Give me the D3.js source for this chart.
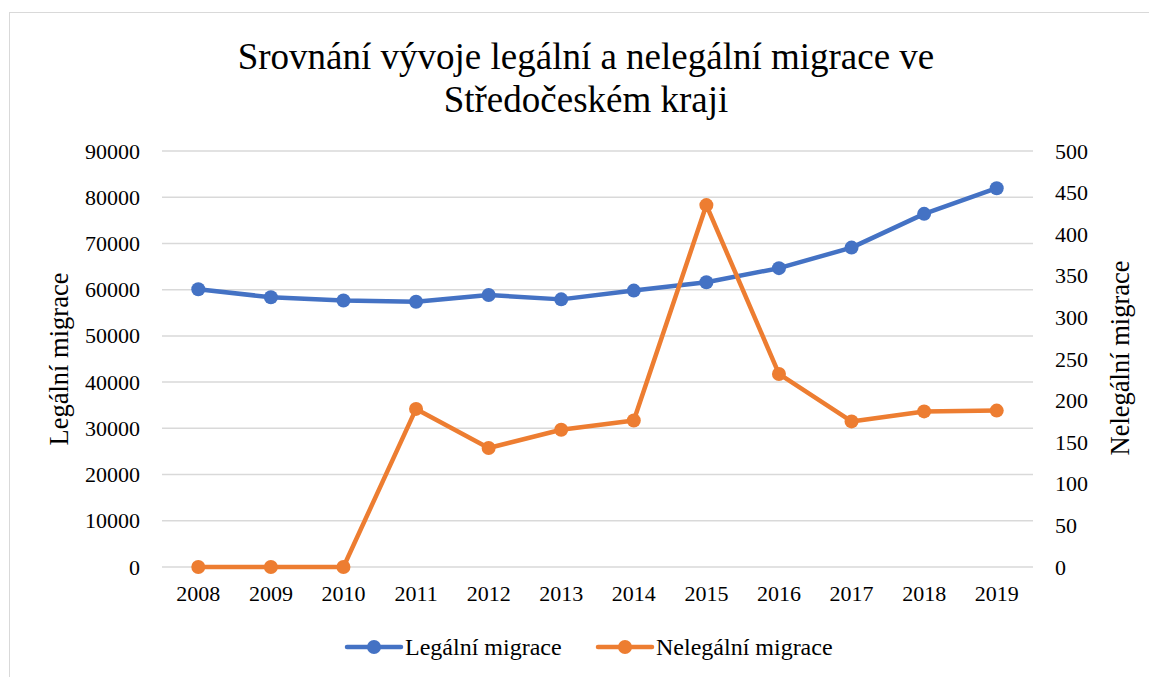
<!DOCTYPE html>
<html>
<head>
<meta charset="utf-8">
<script src="https://cdn.jsdelivr.net/npm/d3@7"></script>
<style>
  body { margin: 0; background: #fff; }
  text { font-family: "Liberation Serif", "Times New Roman", serif; fill: #000; }
</style>
</head>
<body>
<svg width="1149" height="677"></svg>
<script>
// data
var years = ["2008", "2009", "2010", "2011", "2012", "2013", "2014", "2015", "2016", "2017", "2018", "2019"];
var legal = [60100, 58350, 57650, 57400, 58850, 57900, 59800, 61600, 64650, 69100, 76400, 81950];
var illegal = [0, 0, 0, 190, 143, 165, 176, 435, 232, 175, 187, 188];
var leftTicks = [0, 10000, 20000, 30000, 40000, 50000, 60000, 70000, 80000, 90000];
var rightTicks = [0, 50, 100, 150, 200, 250, 300, 350, 400, 450, 500];

var svg = d3.select("svg");

// outer frame
svg.append("rect")
  .attr("x", 9.5).attr("y", 12.5)
  .attr("width", 1160).attr("height", 700)
  .attr("fill", "none")
  .attr("stroke", "#d9d9d9");

var x0 = 162, x1 = 1033, yTop = 151, yBot = 567;

var x = d3.scaleBand().domain(years).range([x0, x1]);
var yL = d3.scaleLinear().domain([0, 90000]).range([yBot, yTop]);
var yR = d3.scaleLinear().domain([0, 500]).range([yBot, yTop]);

// title
svg.append("text")
  .attr("x", 586).attr("y", 69)
  .attr("text-anchor", "middle")
  .style("font-size", "37px")
  .text("Srovnání vývoje legální a nelegální migrace ve");
svg.append("text")
  .attr("x", 586).attr("y", 112)
  .attr("text-anchor", "middle")
  .style("font-size", "37px")
  .text("Středočeském kraji");

// gridlines
svg.append("g")
  .selectAll("line")
  .data(leftTicks)
  .enter()
  .append("line")
  .attr("x1", x0).attr("x2", x1)
  .attr("y1", d => yL(d)).attr("y2", d => yL(d))
  .attr("stroke", "#d9d9d9")
  .attr("stroke-width", 1.5);

// left axis
var gl = svg.append("g")
  .attr("transform", "translate(" + x0 + ",0)")
  .call(d3.axisLeft(yL).tickValues(leftTicks).tickSize(0).tickPadding(22).tickFormat(d3.format("d")));
gl.select(".domain").remove();
gl.selectAll("text").style("font-size", "22px").attr("fill", "#000");

// right axis
var gr = svg.append("g")
  .attr("transform", "translate(" + x1 + ",0)")
  .call(d3.axisRight(yR).tickValues(rightTicks).tickSize(0).tickPadding(22).tickFormat(d3.format("d")));
gr.select(".domain").remove();
gr.selectAll("text").style("font-size", "22px").attr("fill", "#000");

// bottom axis
var gb = svg.append("g")
  .attr("transform", "translate(0," + yBot + ")")
  .call(d3.axisBottom(x).tickSize(0).tickPadding(18));
gb.select(".domain").remove();
gb.selectAll("text").style("font-size", "22px").attr("fill", "#000");

// axis titles (both read bottom to top)
svg.append("text")
  .attr("transform", "translate(68,359) rotate(-90)")
  .attr("text-anchor", "middle")
  .style("font-size", "26.5px")
  .text("Legální migrace");
svg.append("text")
  .attr("transform", "translate(1129,358) rotate(-90)")
  .attr("text-anchor", "middle")
  .style("font-size", "26.5px")
  .text("Nelegální migrace");

var cx = d => x(d) + x.bandwidth() / 2;

function drawSeries(values, scale, color) {
  var line = d3.line()
    .x((d, i) => cx(years[i]))
    .y(d => scale(d));
  svg.append("path")
    .datum(values)
    .attr("d", line)
    .attr("fill", "none")
    .attr("stroke", color)
    .attr("stroke-width", 4.5)
    .attr("stroke-linejoin", "round")
    .attr("stroke-linecap", "round");
  svg.append("g")
    .selectAll("circle")
    .data(values)
    .enter()
    .append("circle")
    .attr("cx", (d, i) => cx(years[i]))
    .attr("cy", d => scale(d))
    .attr("r", 7)
    .attr("fill", color);
}

drawSeries(legal, yL, "#4472C4");
drawSeries(illegal, yR, "#ED7D31");

// legend
var legend = [
  { name: "Legální migrace", color: "#4472C4", x: 347 },
  { name: "Nelegální migrace", color: "#ED7D31", x: 598 }
];
var lg = svg.append("g").selectAll("g")
  .data(legend)
  .enter()
  .append("g")
  .attr("transform", d => "translate(" + d.x + ",647)");
lg.append("line")
  .attr("x1", 0).attr("x2", 54)
  .attr("stroke", d => d.color)
  .attr("stroke-width", 4.5)
  .attr("stroke-linecap", "round");
lg.append("circle")
  .attr("cx", 27).attr("r", 7)
  .attr("fill", d => d.color);
lg.append("text")
  .attr("x", 58).attr("dy", "0.35em")
  .style("font-size", "24px")
  .text(d => d.name);
</script>
</body>
</html>
